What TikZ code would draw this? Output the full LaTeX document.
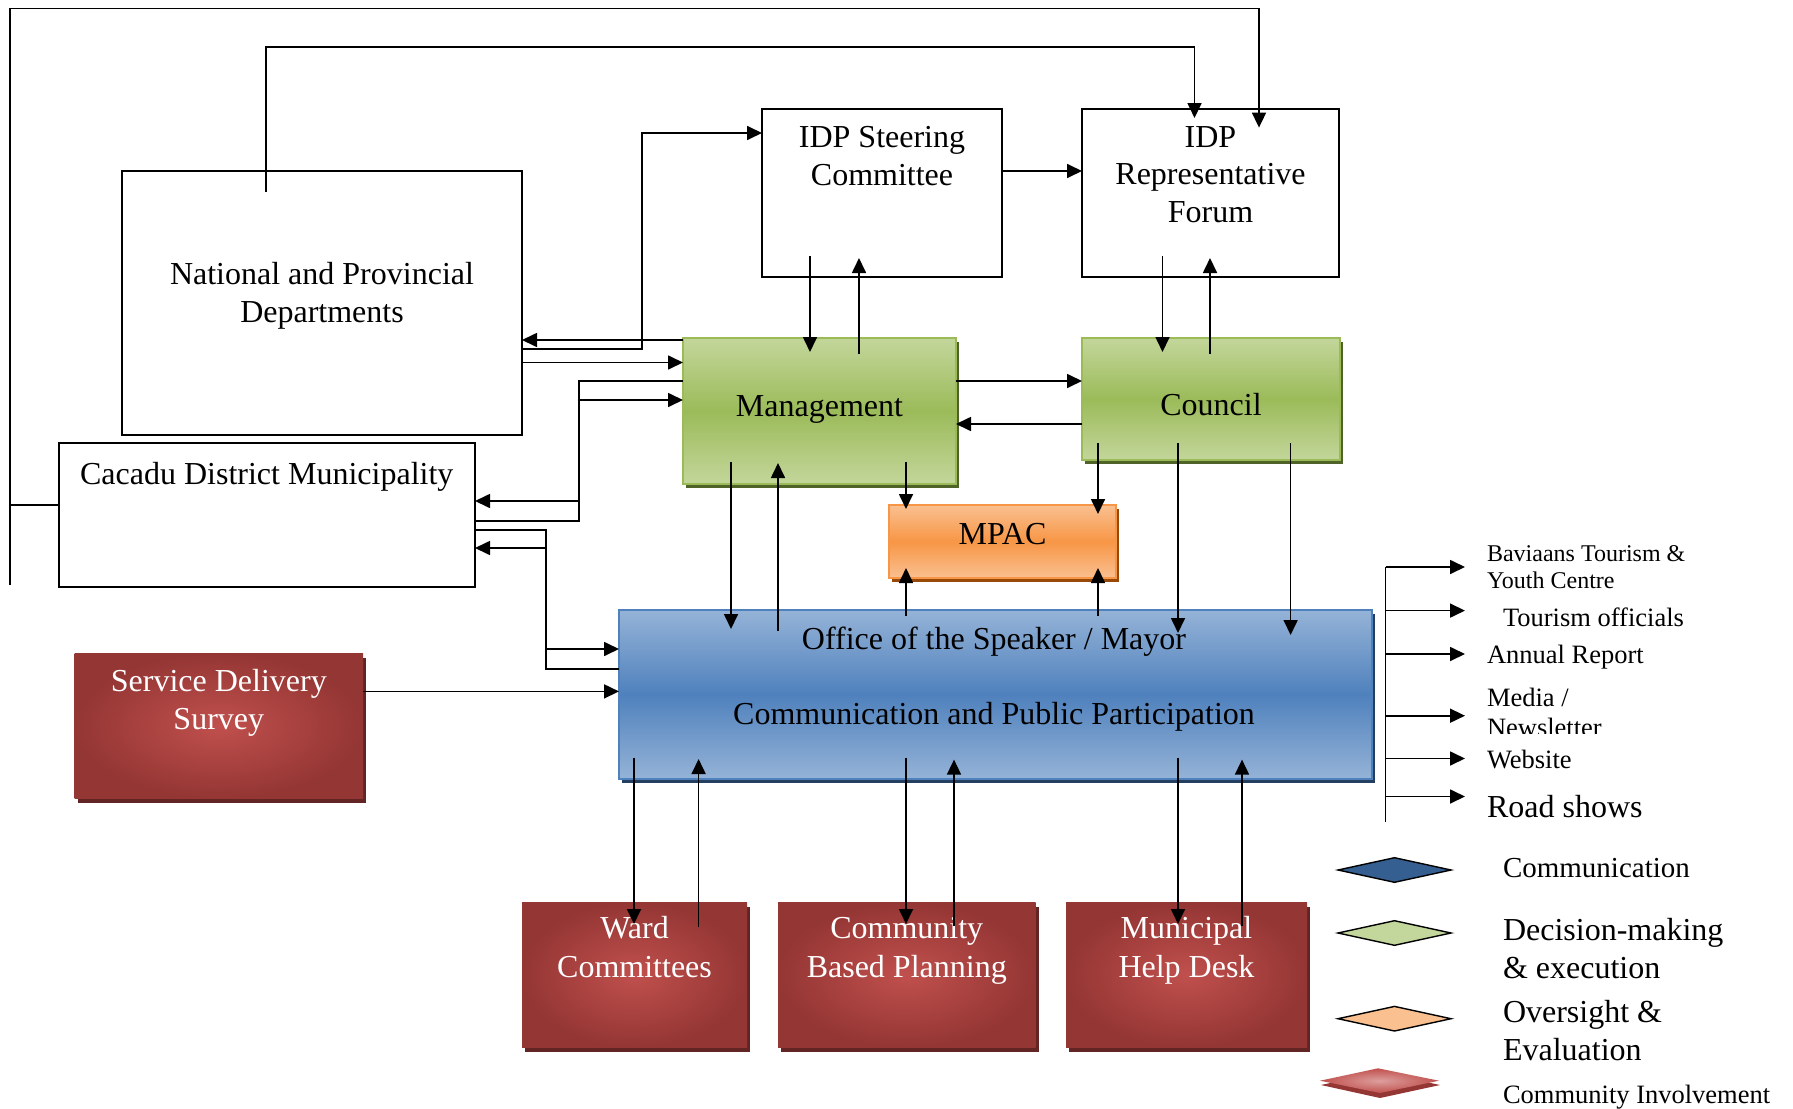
\documentclass[tikz,border=0pt]{standalone}
\usepackage{fontspec}
\setmainfont{Liberation Serif}
\usetikzlibrary{arrows.meta,shadows}

\definecolor{grnTop}{HTML}{C3D69B}
\definecolor{grnMid}{HTML}{9BBB59}
\definecolor{grnShadow}{HTML}{4F6228}
\definecolor{orgTop}{HTML}{FAC090}
\definecolor{orgMid}{HTML}{F79646}
\definecolor{orgShadow}{HTML}{984807}
\definecolor{bluTop}{HTML}{95B3D7}
\definecolor{bluMid}{HTML}{4F81BD}
\definecolor{bluShadow}{HTML}{243F60}
\definecolor{redIn}{HTML}{C0504D}
\definecolor{redOut}{HTML}{943634}
\definecolor{redShadow}{HTML}{632523}
\definecolor{legBlue}{HTML}{365F91}
\definecolor{legOrange}{HTML}{FAC08F}

\tikzset{
  every node/.style={inner sep=0pt, outer sep=0pt},
  wire/.style={line width=1.7pt},
  arr/.style={line width=1.7pt, -{Triangle[length=15pt,width=14pt]}},
  ext/.style 2 args={shorten <=-#1pt, shorten >=-#2pt},
  whitebox/.style={draw=black, line width=2pt, fill=white},
  greenbox/.style={draw=grnMid, line width=1.5pt, top color=grnTop, bottom color=grnTop, middle color=grnMid,
    drop shadow={shadow xshift=3pt, shadow yshift=-4pt, opacity=1, fill=grnShadow}},
  orangebox/.style={draw=orgMid, line width=1.5pt, top color=orgTop, bottom color=orgTop, middle color=orgMid,
    drop shadow={shadow xshift=3pt, shadow yshift=-4pt, opacity=1, fill=orgShadow}},
  bluebox/.style={draw=bluMid, line width=1.5pt, top color=bluTop, bottom color=bluTop, middle color=bluMid,
    drop shadow={shadow xshift=3pt, shadow yshift=-4pt, opacity=1, fill=bluShadow}},
  redbox/.style={inner color=redIn, outer color=redOut,
    drop shadow={shadow xshift=3pt, shadow yshift=-5pt, opacity=1, fill=redShadow}},
  txt/.style={font=\fontsize{32}{38}\selectfont, anchor=base},
  wtxt/.style={txt, text=white},
  item/.style={font=\fontsize{26.5}{30}\selectfont, anchor=base west},
  keytxt/.style={font=\fontsize{32}{38}\selectfont, anchor=base west},
}

\begin{document}
\begin{tikzpicture}[x=1pt,y=-1pt]
\useasboundingbox (0,0) rectangle (1793,1108);
\clip (0,0) rectangle (1793,1108);

% ---------- boxes ----------
\node[whitebox, minimum width=400pt, minimum height=264pt] (nat) at (322,303) {};
\node[whitebox, minimum width=416.5pt, minimum height=144pt] (cac) at (266.75,515) {};
\node[whitebox, minimum width=240pt, minimum height=168.4pt] (steer) at (882,192.8) {};
\node[whitebox, minimum width=257pt, minimum height=168.4pt] (forum) at (1210.5,192.8) {};
\node[greenbox, minimum width=273pt, minimum height=146pt] (mgmt) at (819.5,411) {};
\node[greenbox, minimum width=258pt, minimum height=122pt] (council) at (1211,399) {};
\node[orangebox, minimum width=227pt, minimum height=73pt] (mpac) at (1002.5,541.5) {};
\node[bluebox, minimum width=753pt, minimum height=169pt] (office) at (995.5,694.5) {};
\node[redbox, minimum width=288.4pt, minimum height=145pt] (sds) at (218.8,725.5) {};
\node[redbox, minimum width=225pt, minimum height=145pt] (ward) at (634.5,974.5) {};
\node[redbox, minimum width=257.5pt, minimum height=145pt] (cbp) at (906.75,974.5) {};
\node[redbox, minimum width=241pt, minimum height=145pt] (mhd) at (1186.5,974.5) {};

% ---------- box texts ----------
\node[txt] (natA) at (322,284) {National and Provincial};
\node[txt] (natB) at (322,322) {Departments};
\node[txt] (cacA) at (266.75,484) {Cacadu District Municipality};
\node[txt] (steerA) at (882,147) {IDP Steering};
\node[txt] (steerB) at (882,185) {Committee};
\node[txt] (forumA) at (1210.5,147) {IDP};
\node[txt] (forumB) at (1210.5,184.6) {Representative};
\node[txt] (forumC) at (1210.5,222) {Forum};
\node[txt] (mgmtA) at (819.5,416) {Management};
\node[txt] (councilA) at (1211,415) {Council};
\node[txt] (mpacA) at (1002.5,544.6) {MPAC};
\node[txt] (officeA) at (994,649) {Office of the Speaker / Mayor};
\node[txt] (officeB) at (994,724.2) {Communication and Public Participation};
\node[wtxt] (sdsA) at (218.8,691.6) {Service Delivery};
\node[wtxt] (sdsB) at (218.8,729.3) {Survey};
\node[wtxt] (wardA) at (634.5,938.5) {Ward};
\node[wtxt] (wardB) at (634.5,977.3) {Committees};
\node[wtxt] (cbpA) at (906.75,938.5) {Community};
\node[wtxt] (cbpB) at (906.75,977.3) {Based Planning};
\node[wtxt] (mhdA) at (1186.5,938.5) {Municipal};
\node[wtxt] (mhdB) at (1186.5,977.3) {Help Desk};

% ---------- long feedback lines into the forum ----------
\draw[arr, shorten >=-19pt] (cac.west |- 0,505) -- (10.3,505) -- (10.3,8.6) -- (1259,8.6) -- (forum.north -| 1259,0);
\draw[wire] (10.3,505) -- (10.3,585);
\draw[arr, shorten <=-21pt, shorten >=-9.4pt] (nat.north -| 266,0) -- (266,46.8) -- (1194.5,46.8) -- (forum.north -| 1194.5,0);

% ---------- horizontal links ----------
\draw[arr] (steer.east |- 0,171) -- (forum.west |- 0,171);
\draw[arr] (nat.east |- 0,349) -- (642,349) -- (642,133) -- (steer.west |- 0,133);
\draw[arr] (mgmt.west |- 0,340) -- (nat.east |- 0,340);
\draw[arr] (nat.east |- 0,362.5) -- (mgmt.west |- 0,362.5);
\draw[arr] (mgmt.west |- 0,381) -- (579,381) -- (579,501) -- (cac.east |- 0,501);
\draw[arr] (cac.east |- 0,521) -- (579,521) -- (579,400) -- (mgmt.west |- 0,400);
\draw[arr] (cac.east |- 0,530) -- (546,530) -- (546,649) -- (office.west |- 0,649);
\draw[arr] (office.west |- 0,669) -- (546,669) -- (546,548) -- (cac.east |- 0,548);
\draw[arr] (sds.east |- 0,691.4) -- (office.west |- 0,691.4);
\draw[arr] (mgmt.east |- 0,381) -- (council.west |- 0,381);
\draw[arr] (council.west |- 0,424) -- (mgmt.east |- 0,424);

% ---------- vertical links ----------
\draw[arr, ext={21}{14}] (steer.south -| 810,0) -- (mgmt.north -| 810,0);
\draw[arr, ext={16}{19}] (mgmt.north -| 859,0) -- (steer.south -| 859,0);
\draw[arr, ext={21}{14}] (forum.south -| 1162.5,0) -- (council.north -| 1162.5,0);
\draw[arr, ext={16}{19}] (council.north -| 1210,0) -- (forum.south -| 1210,0);
\draw[arr, ext={22}{4}] (mgmt.south -| 906,0) -- (mpac.north -| 906,0);
\draw[arr, ext={17}{9}] (council.south -| 1098,0) -- (mpac.north -| 1098,0);
\draw[arr, ext={6}{10}] (office.north -| 906,0) -- (mpac.south -| 906,0);
\draw[arr, ext={6}{10}] (office.north -| 1098,0) -- (mpac.south -| 1098,0);
\draw[arr, ext={17}{23}] (council.south -| 1178,0) -- (office.north -| 1178,0);
\draw[arr, ext={17}{25}] (council.south -| 1290.6,0) -- (office.north -| 1290.6,0);
\draw[arr, ext={22}{19}] (mgmt.south -| 731,0) -- (office.north -| 731,0);
\draw[arr, ext={20.6}{21}] (office.north -| 778,0) -- (mgmt.south -| 778,0);
\draw[arr, ext={21}{22}] (office.south -| 634,0) -- (ward.north -| 634,0);
\draw[arr, ext={25}{20}] (ward.north -| 698.6,0) -- (office.south -| 698.6,0);
\draw[arr, ext={21}{22}] (office.south -| 906,0) -- (cbp.north -| 906,0);
\draw[arr, ext={24}{19.4}] (cbp.north -| 954,0) -- (office.south -| 954,0);
\draw[arr, ext={21}{22}] (office.south -| 1178,0) -- (mhd.north -| 1178,0);
\draw[arr, ext={24}{19.4}] (mhd.north -| 1242,0) -- (office.south -| 1242,0);

% ---------- communication channels ----------
\coordinate (trunkTop) at (1385.5,567);
\coordinate (trunkBot) at (1385.5,822);
\draw[wire] (trunkTop) -- (trunkBot);
\foreach \yy/\nm in {567/c1, 610.6/c2, 654/c3, 715.7/c4, 758.5/c5, 796.5/c6}{
  \coordinate (\nm) at (1465,\yy);
  \draw[arr] (trunkTop |- \nm) -- (\nm);
}
\node[anchor=base west, font=\fontsize{24}{28}\selectfont] (bavA) at (1487,561.7) {Baviaans Tourism \&};
\node[anchor=base west, font=\fontsize{24}{28}\selectfont] (bavB) at (1487,588.3) {Youth Centre};
\node[item] (tour) at (1503,626) {Tourism officials};
\node[item] (annual) at (1487,663.3) {Annual Report};
\node[item] (mediaA) at (1487,706.7) {Media /};
\begin{scope}
  \clip (1480,690) rectangle (1700,733);
  \node[item] (mediaB) at (1487,736) {Newsletter};
\end{scope}
\node[item] (web) at (1487,768) {Website};
\node[keytxt] (road) at (1487,817) {Road shows};

% ---------- key ----------
\draw[line width=1.4pt, fill=legBlue] (1338,870) -- (1394.5,857.7) -- (1451,870) -- (1394.5,882.3) -- cycle;
\draw[line width=1.4pt, fill=grnTop] (1338,933) -- (1394.5,920.7) -- (1451,933) -- (1394.5,945.3) -- cycle;
\draw[line width=1.4pt, fill=legOrange] (1338,1018.7) -- (1394.5,1006.4) -- (1451,1018.7) -- (1394.5,1031) -- cycle;
\fill[redOut] (1321,1085) -- (1380,1072) -- (1440,1085) -- (1380,1098) -- cycle;
\shade[inner color=redIn!55!white, outer color=redIn] (1320,1080.7) -- (1378,1068.3) -- (1439,1080.7) -- (1380,1093) -- cycle;

\node[anchor=base west, font=\fontsize{29}{34}\selectfont] (kComm) at (1503,877.7) {Communication};
\node[keytxt] (kDecA) at (1503,940) {Decision-making};
\node[keytxt] (kDecB) at (1503,978.4) {\& execution};
\node[keytxt] (kOvA) at (1503,1022) {Oversight \&};
\node[keytxt] (kOvB) at (1503,1060) {Evaluation};
\node[item] (kCom) at (1503,1103.4) {Community Involvement};
\end{tikzpicture}
\end{document}
